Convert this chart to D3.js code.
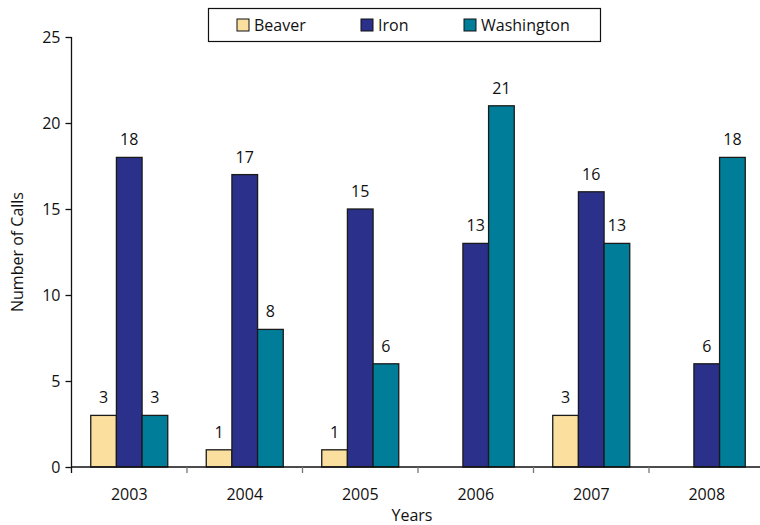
<!DOCTYPE html>
<html><head><meta charset="utf-8">
<script src="https://cdn.jsdelivr.net/npm/d3@7"></script>
<style>body{margin:0;background:#fff}svg text{font-family:"Open Sans","Noto Sans",sans-serif;fill:#111}</style>
</head><body><svg id="c" width="760" height="525"></svg>
<script>
const years = ["2003","2004","2005","2006","2007","2008"];
const seriesNames = ["Beaver","Iron","Washington"];
const beaver = [3,1,1,0,3,0];
const iron = [18,17,15,13,16,6];
const washington = [3,8,6,21,13,18];
const yTicks = [0,5,10,15,20,25];
const colors = ["#FADF9F","#2B318A","#007E99"];
const values = [beaver, iron, washington];

const svg = d3.select("#c");
const fs = 16;
const m = {l:71.5, r:764.5, t:37, b:467};
const x = d3.scaleBand().domain(years).range([m.l, m.r]).paddingInner(0.3333).paddingOuter(0.16667);
const xs = d3.scaleBand().domain(seriesNames).range([0, x.bandwidth()]);
const y = d3.scaleLinear().domain([0,25]).range([m.b, m.t]);

// bars
seriesNames.forEach((s, si) => {
  const g = svg.append("g");
  years.forEach((yr, i) => {
    const v = values[si][i];
    if (v <= 0) return;
    g.append("rect")
      .attr("x", x(yr) + xs(s)).attr("y", y(v))
      .attr("width", xs.bandwidth()).attr("height", y(0) - y(v))
      .attr("fill", colors[si]).attr("stroke", "#1a1a1a").attr("stroke-width", 1.3);
    g.append("text")
      .attr("x", x(yr) + xs(s) + xs.bandwidth()/2).attr("y", y(v) - 12)
      .attr("text-anchor","middle").attr("font-size", fs).text(v);
  });
});

// y axis
const ya = svg.append("g").attr("transform", `translate(${m.l},0)`)
  .call(d3.axisLeft(y).tickValues(yTicks).tickSize(6).tickPadding(5));
ya.selectAll("text").attr("font-size", fs);
ya.selectAll("line,path").attr("stroke","#111").attr("stroke-width",1.3);
ya.select(".domain").attr("d", `M0,${m.t}V${m.b}`);

// x axis
const step = x.step();
svg.append("line").attr("x1", m.l).attr("x2", m.r).attr("y1", m.b).attr("y2", m.b)
  .attr("stroke","#111").attr("stroke-width",1.3);
years.forEach((yr, i) => {
  const bx = m.l + i*step;
  svg.append("line").attr("x1", bx).attr("x2", bx).attr("y1", m.b).attr("y2", m.b+6)
    .attr("stroke", i===0 ? "#111" : "#777").attr("stroke-width",1.3);
  svg.append("text").attr("x", x(yr) + x.bandwidth()/2).attr("y", 500)
    .attr("text-anchor","middle").attr("font-size",fs).text(yr);
});

svg.append("text").attr("x", (m.l+m.r)/2 - 6).attr("y", 521).attr("text-anchor","middle")
  .attr("font-size",fs).text("Years");
svg.append("text").attr("transform", `translate(23,${(m.t+m.b)/2}) rotate(-90)`)
  .attr("text-anchor","middle").attr("font-size",fs).text("Number of Calls");

// legend
const lg = svg.append("g");
lg.append("rect").attr("x",208.5).attr("y",8.5).attr("width",392).attr("height",33)
  .attr("fill","#fff").attr("stroke","#111").attr("stroke-width",1.2);
const lx = [237, 361, 464];
seriesNames.forEach((s, si) => {
  lg.append("rect").attr("x", lx[si]).attr("y", 19).attr("width", 12).attr("height", 12)
    .attr("fill", colors[si]).attr("stroke","#111").attr("stroke-width",1);
  lg.append("text").attr("x", lx[si]+17).attr("y", 30.5).attr("font-size",fs).text(s);
});
</script></body></html>
